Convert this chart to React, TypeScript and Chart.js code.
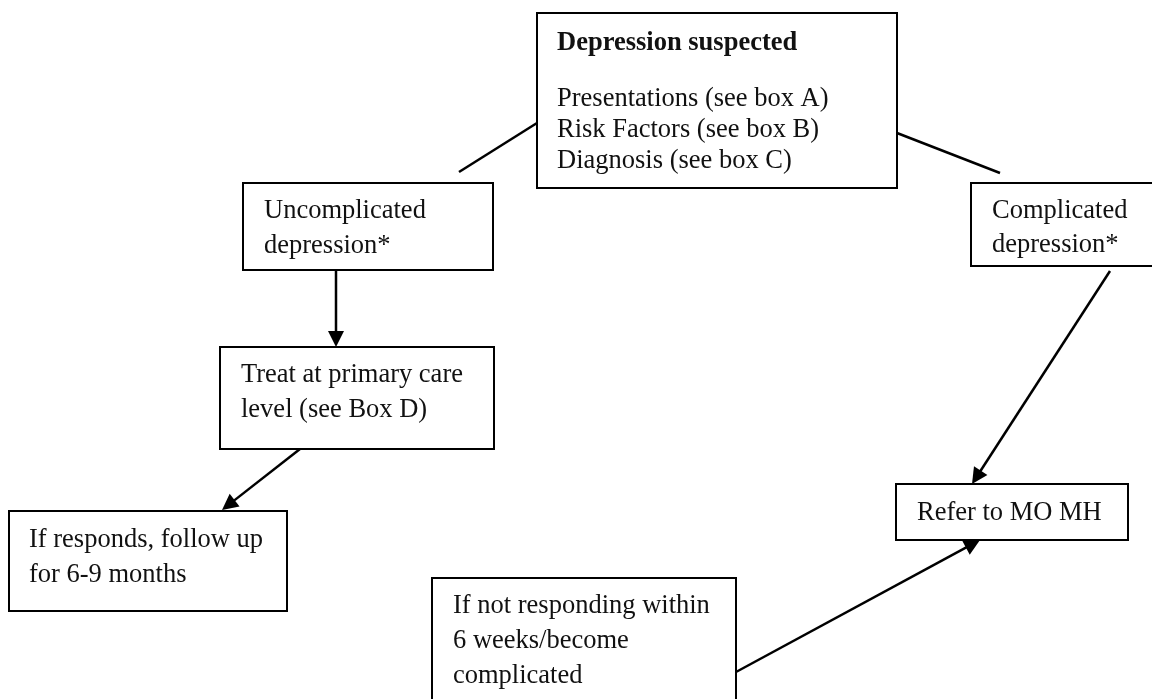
import React, { useEffect, useRef } from "react";
import { Chart, registerables } from "chart.js";

Chart.register(...registerables);

// Flowchart nodes (diagram coordinates, y grows downward)
const nodeNames = ["suspected", "uncomplicated", "treat", "responds", "notResponding", "complicated", "refer"];
const nodeLeft = [537, 243, 220, 9, 432, 971, 896];
const nodeTop = [13, 183, 347, 511, 578, 183, 484];
const nodeRight = [897, 493, 494, 287, 736, 1190, 1128];
const nodeBottom = [188, 270, 449, 611, 712, 266, 540];
const nodeOpenRight = [false, false, false, false, false, true, false];
const nodeTextX = [557, 264, 241, 29, 453, 992, 917];
const nodeLines: string[][] = [
  ["Depression suspected", "Presentations (see box A)", "Risk Factors (see box B)", "Diagnosis (see box C)"],
  ["Uncomplicated", "depression*"],
  ["Treat at primary care", "level (see Box D)"],
  ["If responds, follow up", "for 6-9 months"],
  ["If not responding within", "6 weeks/become", "complicated"],
  ["Complicated", "depression*"],
  ["Refer to MO MH"],
];
const nodeBaselines: number[][] = [
  [50, 106, 137, 168],
  [218, 253],
  [382, 417],
  [547, 582],
  [613, 648, 683],
  [218, 252],
  [520],
];
const nodeBoldFirst = [true, false, false, false, false, false, false];

// Connectors
const edgeFromX = [537, 897, 336, 300, 1110, 736];
const edgeFromY = [123, 133, 270, 449, 271, 672];
const edgeToX = [459, 1000, 336, 222, 972, 980];
const edgeToY = [172, 173, 347, 510, 484, 540];
const edgeArrow = [false, false, true, true, true, true];

const FONT_FAMILY = '"Liberation Serif", "Times New Roman", serif';
const HEAD_LEN = 16;
const HEAD_HALF = 8;

const flowPlugin = {
  id: "flowText",
  afterDatasetsDraw(chart: any) {
    const ctx = chart.ctx;
    const xs = chart.scales.x;
    const ys = chart.scales.y;
    ctx.save();
    // arrow heads
    ctx.fillStyle = "#000";
    for (let i = 0; i < edgeFromX.length; i++) {
      if (!edgeArrow[i]) continue;
      const fx = xs.getPixelForValue(edgeFromX[i]);
      const fy = ys.getPixelForValue(edgeFromY[i]);
      const tx = xs.getPixelForValue(edgeToX[i]);
      const ty = ys.getPixelForValue(edgeToY[i]);
      const ang = Math.atan2(ty - fy, tx - fx);
      const bx = tx - HEAD_LEN * Math.cos(ang);
      const by = ty - HEAD_LEN * Math.sin(ang);
      const px = -Math.sin(ang) * HEAD_HALF;
      const py = Math.cos(ang) * HEAD_HALF;
      ctx.beginPath();
      ctx.moveTo(tx, ty);
      ctx.lineTo(bx + px, by + py);
      ctx.lineTo(bx - px, by - py);
      ctx.closePath();
      ctx.fill();
    }
    // texts
    ctx.fillStyle = "#111";
    ctx.textBaseline = "alphabetic";
    ctx.textAlign = "left";
    for (let i = 0; i < nodeNames.length; i++) {
      const lines = nodeLines[i];
      for (let j = 0; j < lines.length; j++) {
        const bold = nodeBoldFirst[i] && j === 0;
        ctx.font = `${bold ? "bold " : ""}26.5px ${FONT_FAMILY}`;
        ctx.fillText(lines[j], xs.getPixelForValue(nodeTextX[i]), ys.getPixelForValue(nodeBaselines[i][j]));
      }
    }
    ctx.restore();
  },
};

export default function App() {
  const canvasRef = useRef<HTMLCanvasElement | null>(null);

  useEffect(() => {
    if (!canvasRef.current) return;
    const datasets: any[] = [];
    for (let i = 0; i < nodeNames.length; i++) {
      const x0 = nodeLeft[i], x1 = nodeRight[i], y0 = nodeTop[i], y1 = nodeBottom[i];
      if (nodeOpenRight[i]) {
        // box running off the right edge: top edge, left side, bottom edge as separate strokes
        const parts = [
          [{ x: x0, y: y0 }, { x: x1, y: y0 }],
          [{ x: x0, y: y0 }, { x: x0, y: y1 }],
          [{ x: x0, y: y1 }, { x: x1, y: y1 }],
        ];
        parts.forEach((p, k) =>
          datasets.push({
            label: nodeNames[i] + k,
            data: p,
            showLine: true,
            borderColor: "#000",
            borderWidth: 2,
            borderCapStyle: "square",
            pointRadius: 0,
            fill: false,
            tension: 0,
            clip: false,
          })
        );
        continue;
      }
      datasets.push({
        label: nodeNames[i],
        data: [
          { x: x0, y: y0 },
          { x: x1, y: y0 },
          { x: x1, y: y1 },
          { x: x0, y: y1 },
          { x: x0, y: y0 },
        ],
        showLine: true,
        borderColor: "#000",
        borderWidth: 2,
        borderCapStyle: "square",
        borderJoinStyle: "miter",
        pointRadius: 0,
        fill: false,
        tension: 0,
      });
    }
    for (let i = 0; i < edgeFromX.length; i++) {
      let tx = edgeToX[i];
      let ty = edgeToY[i];
      if (edgeArrow[i]) {
        const dx = tx - edgeFromX[i];
        const dy = ty - edgeFromY[i];
        const len = Math.hypot(dx, dy);
        tx = tx - (dx / len) * (HEAD_LEN - 2);
        ty = ty - (dy / len) * (HEAD_LEN - 2);
      }
      datasets.push({
        label: "edge" + i,
        data: [
          { x: edgeFromX[i], y: edgeFromY[i] },
          { x: tx, y: ty },
        ],
        showLine: true,
        borderColor: "#000",
        borderWidth: 2.5,
        pointRadius: 0,
        fill: false,
        tension: 0,
      });
    }
    const chart = new Chart(canvasRef.current, {
      type: "scatter",
      data: { datasets },
      options: {
        animation: false,
        responsive: true,
        maintainAspectRatio: false,
        layout: { padding: 0 },
        events: [],
        plugins: { legend: { display: false }, tooltip: { enabled: false } },
        scales: {
          x: { type: "linear", min: 0, max: 1152, display: false },
          y: { type: "linear", min: 0, max: 699, reverse: true, display: false },
        },
      },
      plugins: [flowPlugin],
    });
    return () => chart.destroy();
  }, []);

  return (
    <div style={{ position: "absolute", left: 0, top: 0, width: 1152, height: 699, background: "#fff" }}>
      <canvas ref={canvasRef} />
    </div>
  );
}
